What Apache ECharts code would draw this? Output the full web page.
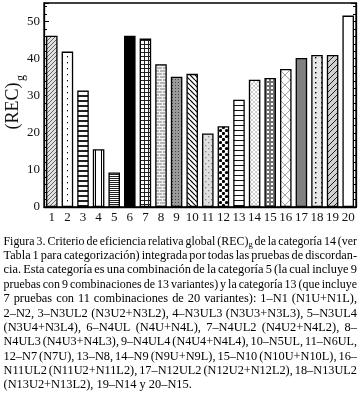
<!DOCTYPE html>
<html>
<head>
<meta charset="utf-8">
<script src="https://cdn.jsdelivr.net/npm/echarts@6/dist/echarts.min.js"></script>
<style>
html,body{margin:0;padding:0;background:#fff;}
#c{width:362px;height:394px;}
</style>
</head>
<body>
<div id="c"></div>
<script>
// ---- data ----
const categories = ['1','2','3','4','5','6','7','8','9','10','11','12','13','14','15','16','17','18','19','20'];
const recValues = [46.2, 41.9, 31.4, 15.6, 9.3, 46.2, 45.4, 38.5, 35.1, 35.9, 19.8, 21.8, 28.9, 34.3, 34.8, 37.2, 40.2, 41.0, 41.0, 51.6];
const yTicks = [0, 10, 20, 30, 40, 50];
const yAxisTitle = '(REC)';
const yAxisTitleSub = 'g';
const captionLines = [
  'Figura 3. Criterio de eficiencia relativa global (REC)g de la categoría 14 (ver',
  'Tabla 1 para categorización) integrada por todas las pruebas de discordan-',
  'cia. Esta categoría es una combinación de la categoría 5 (la cual incluye 9',
  'pruebas con 9 combinaciones de 13 variantes) y la categoría 13 (que incluye',
  '7 pruebas con 11 combinaciones de 20 variantes): 1–N1 (N1U+N1L),',
  '2–N2, 3–N3UL2 (N3U2+N3L2), 4–N3UL3 (N3U3+N3L3), 5–N3UL4',
  '(N3U4+N3L4), 6–N4UL (N4U+N4L), 7–N4UL2 (N4U2+N4L2), 8–',
  'N4UL3 (N4U3+N4L3), 9–N4UL4 (N4U4+N4L4), 10–N5UL, 11–N6UL,',
  '12–N7 (N7U), 13–N8, 14–N9 (N9U+N9L), 15–N10 (N10U+N10L), 16–',
  'N11UL2 (N11U2+N11L2), 17–N12UL2 (N12U2+N12L2), 18–N13UL2',
  '(N13U2+N13L2), 19–N14 y 20–N15.'
];

// ---- patterns ----
function tile(w, h, bg, draw) {
  const c = document.createElement('canvas');
  c.width = w; c.height = h;
  const g = c.getContext('2d');
  g.fillStyle = bg; g.fillRect(0, 0, w, h);
  if (draw) draw(g, w, h);
  return { image: c, repeat: 'repeat' };
}
function line(g, x1, y1, x2, y2, col, lw) {
  g.strokeStyle = col; g.lineWidth = lw; g.beginPath(); g.moveTo(x1, y1); g.lineTo(x2, y2); g.stroke();
}
function diag(g, w, h, col, lw, back) {
  for (let k = -1; k <= 1; k++) {
    if (back) line(g, k * w, 0, k * w + w, h, col, lw);
    else line(g, k * w, h, k * w + w, 0, col, lw);
  }
}
const patterns = [
  tile(4, 4, '#e2e2e2', (g, w, h) => diag(g, w, h, '#555', 0.9, false)),
  tile(5, 6, '#fff', g => { g.fillStyle = '#000'; g.fillRect(2, 2, 1, 1.3); }),
  tile(5, 5, '#fff', g => { g.fillStyle = '#222'; g.fillRect(0, 0, 5, 2); }),
  tile(6, 4, '#fff', g => { g.fillStyle = '#000'; g.fillRect(5, 0, 1, 4); }),
  tile(4, 2, '#fff', g => { g.fillStyle = '#222'; g.fillRect(0, 0, 4, 1); }),
  '#000',
  tile(4, 4, '#fff', g => { g.fillStyle = '#222'; g.fillRect(0, 0, 4, 1); g.fillRect(0, 0, 1, 4); }),
  tile(6, 6, '#b8b8b8', g => { g.fillStyle = '#f2f2f2'; g.fillRect(0, 0, 6, 1); g.fillRect(0, 3, 6, 1); g.fillRect(0, 0, 1, 3); g.fillRect(3, 3, 1, 3); }),
  tile(3, 3, '#9a9a9a', g => { g.fillStyle = '#444'; g.fillRect(1, 1, 1, 1); }),
  tile(5, 5, '#fff', (g, w, h) => diag(g, w, h, '#000', 1.2, true)),
  tile(6, 6, '#e0e0e0', g => { g.fillStyle = '#888'; g.fillRect(1, 1, 1.3, 1.3); g.fillRect(4, 4, 1.3, 1.3); }),
  tile(6, 6, '#fff', g => { g.fillStyle = '#000'; g.beginPath(); g.arc(1.5, 1.5, 1.6, 0, 7); g.fill(); g.beginPath(); g.arc(4.5, 4.5, 1.6, 0, 7); g.fill(); }),
  tile(5, 5, '#fff', g => { g.fillStyle = '#111'; g.fillRect(0, 0, 5, 1); }),
  tile(4, 4, '#fff', (g, w, h) => { diag(g, w, h, '#c0c0c0', 0.8, false); diag(g, w, h, '#c0c0c0', 0.8, true); }),
  tile(4, 4, '#fff', g => { g.strokeStyle = '#000'; g.lineWidth = 0.9; g.beginPath(); g.arc(2, 2, 1.3, 0, 7); g.stroke(); }),
  tile(10, 10, '#fff', (g, w, h) => { diag(g, w, h, '#999', 0.9, false); diag(g, w, h, '#999', 0.9, true); }),
  '#808080',
  tile(6, 5, '#e8e8e8', g => { g.fillStyle = '#000'; g.fillRect(3, 2, 1.4, 1.4); }),
  tile(6, 6, '#d2d2d2', (g, w, h) => diag(g, w, h, '#222', 1, false)),
  '#fff'
];

const barData = recValues.map((v, i) => ({
  value: v,
  itemStyle: { color: patterns[i], borderColor: '#000', borderWidth: 1.3 }
}));

// ---- caption layout (justified) ----
const FONT = '"Liberation Serif", "Times New Roman", serif';
const capFs = 12.4;
const mctx = document.createElement('canvas').getContext('2d');
function mw(t, fs) { mctx.font = fs + 'px ' + FONT; return mctx.measureText(t).width; }
const capLeft = 3.5, capRight = 357, capTop = 241.5, capLH = 14.35;
const graphics = [];
captionLines.forEach((ln, li) => {
  const y = capTop + li * capLH;
  const words = ln.split(' ');
  const items = words.map(w => {
    if (w === '(REC)g') return { main: '(REC)', sub: 'g', w: mw('(REC)', capFs) + mw('g', capFs * 0.7) };
    return { main: w, w: mw(w, capFs) };
  });
  const total = items.reduce((s, it) => s + it.w, 0);
  const last = li === captionLines.length - 1;
  let gap = last ? mw(' ', capFs) : (capRight - capLeft - total) / (items.length - 1);
  let scale = 1;
  if (gap < 2) { scale = (capRight - capLeft - 2 * (items.length - 1)) / total; gap = 2; }
  let x = capLeft;
  items.forEach(it => {
    graphics.push({ type: 'text', x: x, y: y, scaleX: scale, originX: 0, style: { text: it.main, font: capFs + 'px ' + FONT, fill: '#000', verticalAlign: 'middle' } });
    if (it.sub) {
      const mx = mw(it.main, capFs) * scale;
      graphics.push({ type: 'text', x: x + mx, y: y + 3.5, style: { text: it.sub, font: (capFs * 0.7) + 'px ' + FONT, fill: '#000', verticalAlign: 'middle' } });
    }
    x += it.w * scale + gap;
  });
});

// y-axis title (rotated)
graphics.push({ type: 'text', x: 13, y: 106, rotation: Math.PI / 2, style: { text: yAxisTitle, font: '18px ' + FONT, fill: '#111', align: 'center', verticalAlign: 'middle' } });
graphics.push({ type: 'text', x: 21, y: 78, rotation: Math.PI / 2, style: { text: yAxisTitleSub, font: '12px ' + FONT, fill: '#111', align: 'center', verticalAlign: 'middle' } });

const chart = echarts.init(document.getElementById('c'), null, { renderer: 'canvas' });
const yCommon = {
  type: 'value', min: yTicks[0], max: 55, interval: yTicks[1] - yTicks[0],
  splitLine: { show: false },
  axisLine: { show: true, lineStyle: { color: '#000', width: 1.3 } },
  axisTick: { show: true, inside: true, length: 5, lineStyle: { color: '#000', width: 1 } },
  minorTick: { show: true, splitNumber: 5, length: 3, lineStyle: { color: '#000', width: 1 } }
};
chart.setOption({
  animation: false,
  backgroundColor: '#fff',
  grid: { left: 44, right: 6, top: 3, bottom: 187, show: true, borderColor: '#000', borderWidth: 1.3, containLabel: false },
  xAxis: {
    type: 'category', data: categories,
    axisLine: { show: true, lineStyle: { color: '#000', width: 1.3 } },
    axisTick: { show: false },
    axisLabel: { color: '#111', fontFamily: FONT, fontSize: 13, margin: 4, interval: 0 }
  },
  yAxis: [
    Object.assign({}, yCommon, {
      position: 'left',
      axisLabel: { color: '#111', fontFamily: FONT, fontSize: 13, margin: 4, showMaxLabel: false,
        formatter: v => (yTicks.indexOf(v) >= 0 ? String(v) : '') }
    }),
    Object.assign({}, yCommon, { position: 'right', axisLabel: { show: false } })
  ],
  series: [{
    type: 'bar', data: barData, barCategoryGap: '26%', yAxisIndex: 0
  }],
  graphic: graphics
});
</script>
</body>
</html>
